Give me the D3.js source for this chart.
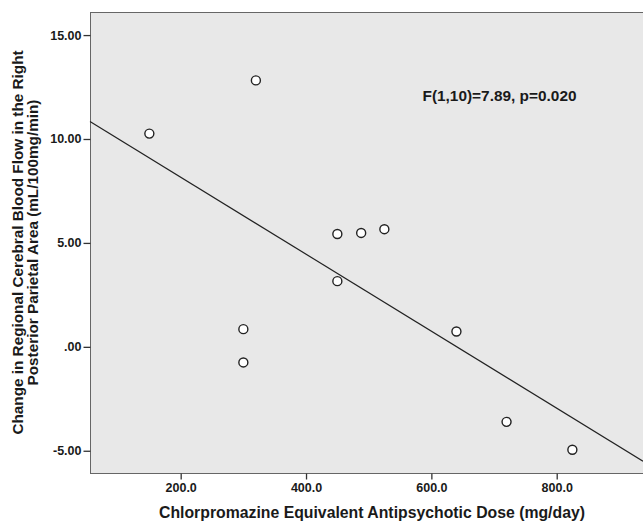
<!DOCTYPE html>
<html>
<head>
<meta charset="utf-8">
<script src="https://cdn.jsdelivr.net/npm/d3@7"></script>
<style>
  body { margin: 0; background: #fff; }
  svg text { font-family: "Liberation Sans", Arial, sans-serif; font-weight: bold; fill: #1a1a1a; }
</style>
</head>
<body>
<svg width="643" height="523"></svg>
<script>
// values
var dose = [150, 320, 450, 488, 525, 450, 300, 300, 640, 720, 825];
var rcbf = [10.26, 12.82, 5.43, 5.48, 5.66, 3.16, 0.85, -0.75, 0.74, -3.61, -4.95];
var xTicks = [200, 400, 600, 800];
var yTicks = [-5, 0, 5, 10, 15];
// fit line (intercept, slope) as drawn
var fitIntercept = 11.87;
var fitSlope = -0.01853;
var statLabel = "F(1,10)=7.89, p=0.020";
var xTitle = "Chlorpromazine Equivalent Antipsychotic Dose (mg/day)";
var yTitle = ["Change in Regional Cerebral Blood Flow in the Right", "Posterior Parietal Area (mL/100mg/min)"];

function draw() {
    var points = dose.map(function(d, i){ return {x: d, y: rcbf[i]}; });

    var svg = d3.select("svg");
    var left = 90, right = 643, top = 12, bottom = 473;

    var x = d3.scaleLinear().domain([55.3, 937.7]).range([left, right]);
    var y = d3.scaleLinear().domain([-6.07, 16.11]).range([bottom, top]);

    // plot frame (right side runs off the picture)
    svg.append("rect")
        .attr("x", left + 0.5)
        .attr("y", top + 0.5)
        .attr("width", right - left + 10)
        .attr("height", bottom - top)
        .attr("fill", "#e8e8e8")
        .attr("stroke", "#666")
        .attr("stroke-width", 1);

    // SPSS style: ".00" and a plain hyphen for negatives
    var fmtY = function(d){ return d3.format(".2f")(d).replace("\u2212", "-").replace(/^0\./, "."); };

    var yAxis = svg.append("g")
        .attr("transform", "translate(" + (left + 0.5) + ",0)")
        .call(d3.axisLeft(y).tickValues(yTicks).tickFormat(fmtY).tickSize(7).tickPadding(2));
    var xAxis = svg.append("g")
        .attr("transform", "translate(0," + (bottom + 0.5) + ")")
        .call(d3.axisBottom(x).tickValues(xTicks).tickFormat(d3.format(".1f")).tickSize(6).tickPadding(4));

    [xAxis, yAxis].forEach(function(a){
        a.select(".domain").remove();
        a.selectAll("line").attr("stroke", "#333").attr("stroke-width", 1.3);
        a.selectAll("text").attr("font-size", "12.5px").attr("fill", "#1a1a1a")
            .style("font-family", "'Liberation Sans', Arial, sans-serif").style("font-weight", "bold");
    });

    // regression line
    var xd = x.domain();
    svg.append("line")
        .attr("x1", x(xd[0])).attr("y1", y(fitIntercept + fitSlope * xd[0]))
        .attr("x2", x(xd[1])).attr("y2", y(fitIntercept + fitSlope * xd[1]))
        .attr("stroke", "#222")
        .attr("stroke-width", 1.2);

    svg.append("g")
        .selectAll("circle")
        .data(points)
        .enter()
        .append("circle")
        .attr("cx", d => x(d.x))
        .attr("cy", d => y(d.y))
        .attr("r", 4.5)
        .attr("fill", "#fff")
        .attr("stroke", "#222")
        .attr("stroke-width", 1.4);

    svg.append("text")
        .attr("x", 422.5)
        .attr("y", 101)
        .attr("font-size", "15.4px")
        .text(statLabel);

    svg.append("text")
        .attr("x", 372)
        .attr("y", 518)
        .attr("text-anchor", "middle")
        .attr("font-size", "15.8px")
        .text(xTitle);

    var yt = svg.append("text")
        .attr("transform", "translate(23," + ((top + bottom) / 2) + ") rotate(-90)")
        .attr("text-anchor", "middle")
        .attr("font-size", "15.3px");
    yt.selectAll("tspan")
        .data(yTitle)
        .enter()
        .append("tspan")
        .attr("x", 0)
        .attr("y", (d, i) => i * 15)
        .text(d => d);
}

draw();
</script>
</body>
</html>
